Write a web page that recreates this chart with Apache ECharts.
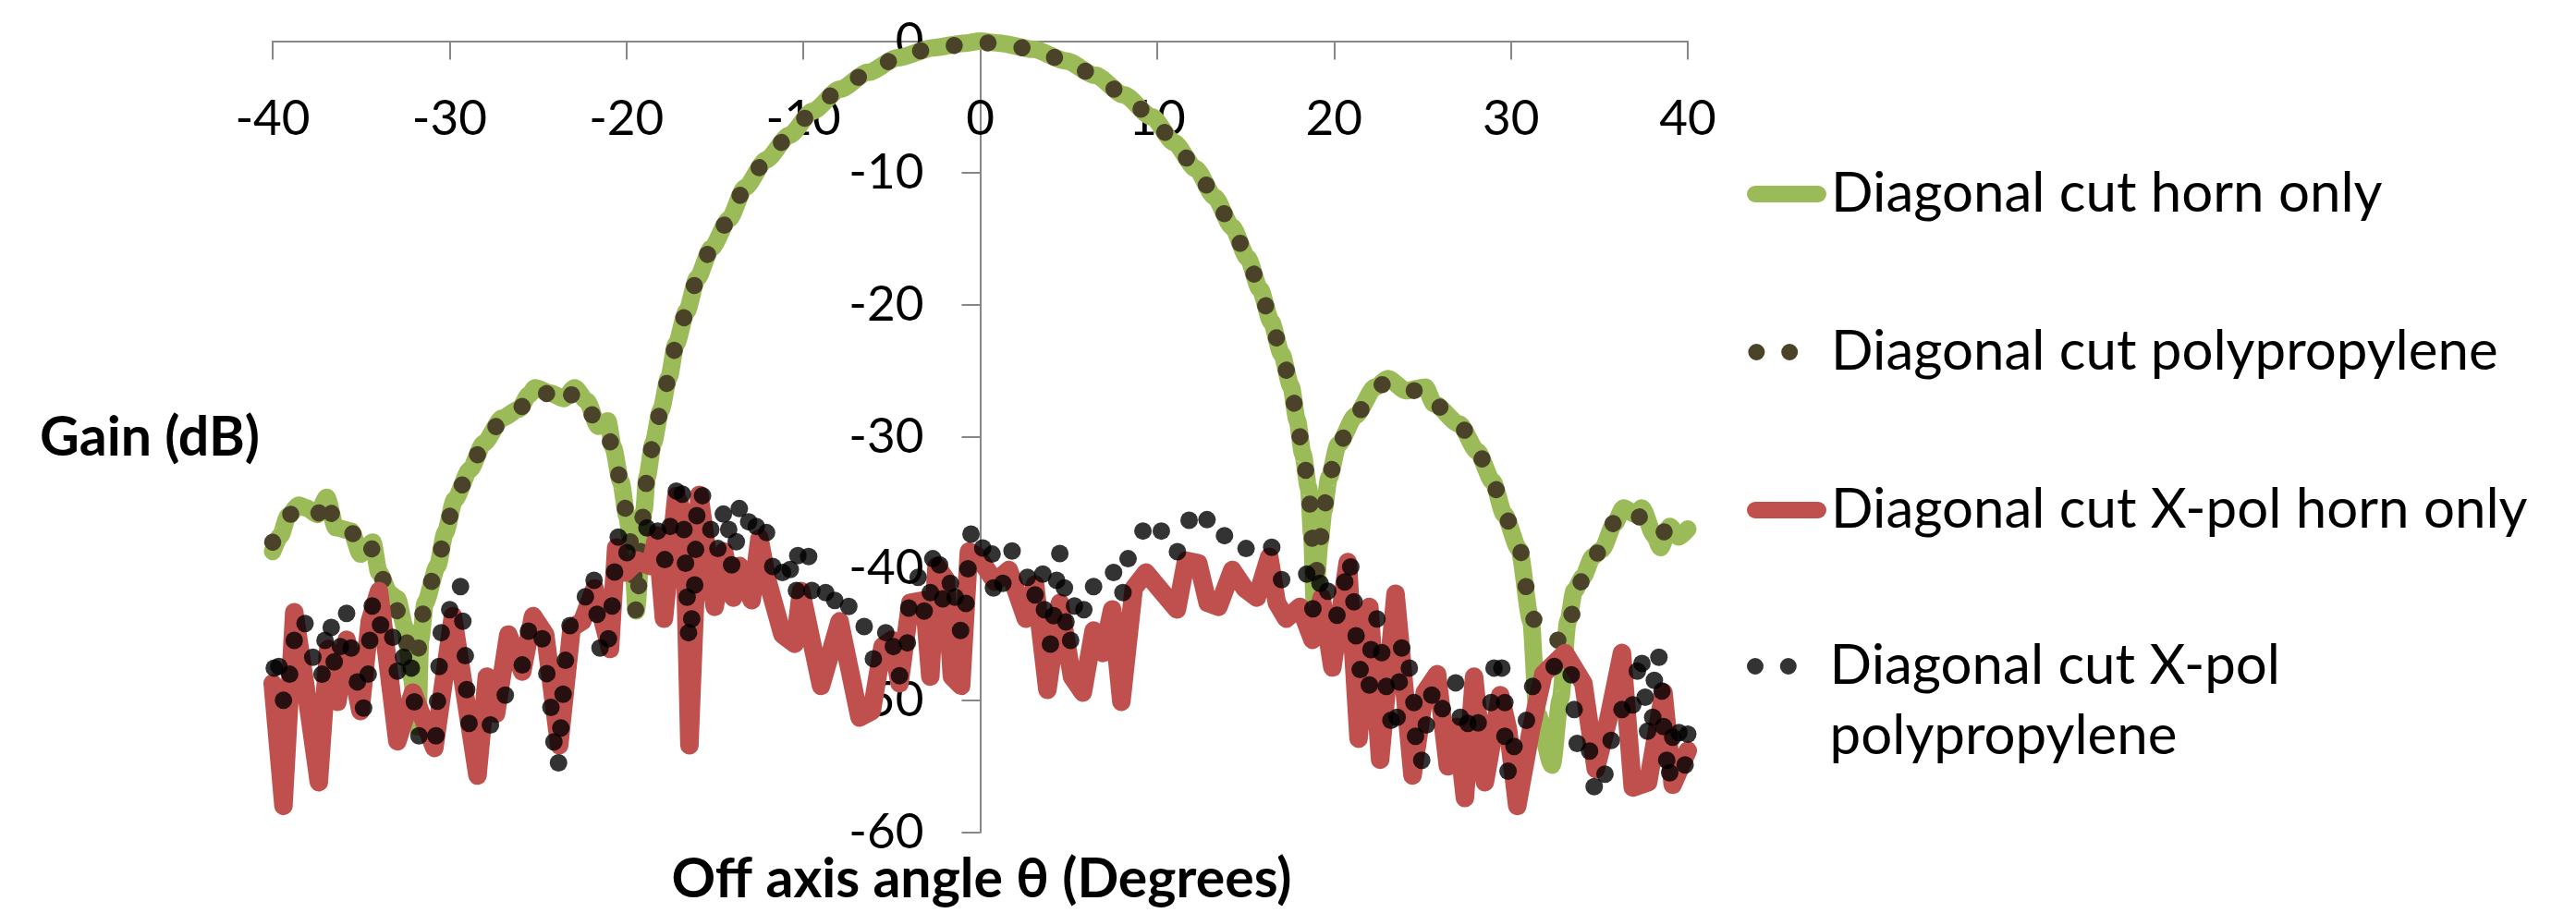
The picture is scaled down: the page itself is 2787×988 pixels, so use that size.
<!DOCTYPE html>
<html>
<head>
<meta charset="utf-8">
<script src="https://cdn.jsdelivr.net/npm/echarts@6/dist/echarts.min.js"></script>
<style>html,body{margin:0;padding:0;background:#fff}#c{width:2787px;height:988px}</style>
</head>
<body>
<div id="c"></div>
<script>
// ---------- tick labels ----------
const xTicks = [-40, -30, -20, -10, 0, 10, 20, 30, 40];
const yTicks = [-60, -50, -40, -30, -20, -10, 0];

// ---------- series names ----------
const seriesNames = [
  'Diagonal cut horn only',
  'Diagonal cut polypropylene',
  'Diagonal cut X-pol horn only',
  'Diagonal cut X-pol polypropylene'
];

// ---------- co-pol (diagonal cut) angles ----------
const coTheta = [-40.0, -39.56, -39.13, -38.52, -38.08, -37.47, -36.95, -36.43, -35.56, -35.04,
  -34.34, -33.99, -33.38, -32.95, -32.51, -32.16, -31.81, -31.64, -31.38, -30.68,
  -30.25, -29.72, -28.85, -28.07, -27.02, -26.07, -25.5, -25.16, -24.3, -23.54,
  -22.93, -22.23, -21.6, -21.06, -20.75, -20.32, -19.97, -19.6, -19.45, -19.01,
  -18.84, -18.49, -18.06, -17.6, -17.2, -16.6, -16.0, -15.2, -14.2, -13.3,
  -12.1, -10.8, -9.46, -7.94, -6.34, -4.67, -2.66, -0.88, 0, 1.1,
  2.99, 4.86, 6.51, 8.11, 9.71, 10.96, 12.19, 13.25, 14.24, 15.12,
  15.82, 16.45, 17.04, 17.57, 17.92, 18.24, 18.57, 18.75, 18.9, 19.2,
  19.42, 19.72, 20.24, 21.22, 22.32, 23.04, 24.08, 25.17, 25.65, 27.09,
  28.1, 28.97, 29.63, 30.45, 31.14, 31.49, 32.33, 32.8, 33.23, 33.58,
  34.07, 34.63, 35.15, 35.85, 36.37, 37.06, 37.41, 38.11, 38.46, 38.98,
  39.5, 40.0];

// Diagonal cut horn only (gain, dB)
const hornGain = [-38.7, -37.5, -36.0, -35.2, -35.4, -35.9, -34.6, -36.9, -37.15, -38.9,
  -38.0, -40.3, -41.9, -42.3, -44.5, -48.2, -52.0, -45.4, -42.6, -39.8,
  -37.3, -34.8, -32.5, -30.5, -28.6, -27.9, -26.8, -26.3, -26.7, -27.1,
  -26.3, -27.3, -29.2, -28.8, -30.8, -33.4, -36.0, -40.0, -43.2, -35.6,
  -33.1, -30.5, -28.0, -25.5, -23.0, -20.5, -18.0, -15.7, -13.5, -11.1,
  -9.0, -7.15, -5.3, -3.65, -2.37, -1.27, -0.5, -0.15, 0, -0.15,
  -0.62, -1.51, -2.6, -4.07, -5.75, -7.69, -9.68, -11.82, -14.09, -16.45,
  -18.83, -21.28, -23.73, -26.18, -28.75, -31.3, -33.9, -37.5, -42.8, -38.0,
  -35.6, -33.1, -30.6, -28.4, -26.25, -25.6, -26.5, -26.25, -27.5, -29.05,
  -31.1, -33.4, -35.9, -38.5, -44.0, -51.0, -54.9, -49.9, -44.0, -41.7,
  -40.65, -39.1, -38.55, -36.6, -35.4, -35.9, -35.4, -37.5, -38.4, -36.8,
  -37.6, -37.0];

// Diagonal cut polypropylene (gain, dB)
const polyGain = [-38.0, -37.2, -36.0, -35.3, -35.4, -35.9, -34.6, -36.9, -37.15, -38.9,
  -38.5, -40.3, -41.9, -43.2, -45.3, -47.0, -46.5, -44.6, -42.3, -39.8,
  -37.3, -34.8, -32.5, -30.5, -28.7, -28.0, -26.8, -26.4, -26.8, -27.6,
  -26.6, -27.5, -29.4, -29.9, -30.9, -33.4, -36.0, -40.0, -43.5, -35.6,
  -33.1, -30.5, -28.0, -25.5, -23.0, -20.5, -18.0, -15.7, -13.5, -11.1,
  -9.0, -7.15, -5.3, -3.65, -2.37, -1.27, -0.5, -0.27, -0.1, -0.2,
  -0.62, -1.51, -2.6, -4.07, -5.75, -7.69, -9.68, -11.82, -14.09, -16.45,
  -18.83, -21.28, -23.73, -26.18, -28.75, -31.3, -33.9, -37.5, -41.5, -38.0,
  -35.6, -33.1, -30.6, -28.4, -26.25, -25.9, -26.5, -26.5, -27.5, -29.05,
  -31.1, -33.4, -35.9, -38.25, -43.3, -44.5, -44.9, -45.6, -44.0, -43.2,
  -40.65, -39.1, -38.55, -36.5, -35.6, -35.9, -36.2, -37.0, -37.5, -36.7,
  -37.2, -37.0];

// ---------- X-pol horn only ----------
const xpolHornTheta = [-40.0, -39.39, -38.78, -38.17, -37.39, -36.86, -36.34, -35.82, -35.04, -34.51,
  -33.99, -32.95, -32.07, -30.86, -29.81, -28.42, -27.89, -27.37, -26.68, -25.89,
  -25.28, -24.59, -23.8, -23.1, -22.5, -21.8, -20.93, -20.58, -20.06, -19.36,
  -18.66, -18.28, -17.88, -17.18, -16.75, -16.44, -15.88, -15.01, -14.48, -13.96,
  -13.62, -12.92, -12.48, -12.05, -11.18, -10.48, -10.13, -9.0, -7.95, -6.82,
  -6.13, -5.52, -4.99, -4.56, -3.95, -3.17, -2.82, -2.47, -1.95, -1.6,
  -1.08, -0.64, -0.12, 0.84, 1.62, 2.58, 3.1, 3.8, 4.5, 5.19,
  5.8, 6.41, 6.94, 7.46, 7.98, 8.68, 9.37, 10.24, 11.12, 11.64,
  12.33, 12.86, 13.47, 14.25, 14.95, 15.64, 16.34, 16.77, 17.3, 18.08,
  18.78, 19.3, 19.91, 20.78, 21.39, 22.0, 22.61, 23.48, 24.44, 25.13,
  25.83, 26.44, 26.96, 27.4, 27.92, 28.53, 29.4, 29.84, 30.36, 31.14,
  31.84, 33.06, 34.1, 34.8, 35.5, 36.28, 36.89, 37.76, 38.63, 39.15,
  40.0];
const xpolHornGain = [-48.7, -58.0, -43.3, -48.7, -56.2, -46.1, -50.1, -45.4, -50.8, -44.0,
  -41.7, -53.1, -49.4, -53.6, -43.6, -55.7, -48.2, -51.0, -45.0, -47.8,
  -43.6, -45.0, -53.4, -44.5, -44.0, -41.5, -46.1, -38.4, -40.3, -39.4,
  -39.8, -37.5, -43.8, -34.5, -35.9, -53.4, -34.4, -42.9, -38.7, -42.2,
  -39.8, -42.4, -37.7, -40.8, -45.0, -45.7, -41.7, -48.9, -44.0, -51.3,
  -50.8, -45.9, -45.4, -48.7, -42.6, -42.4, -48.2, -39.8, -40.8, -48.2,
  -48.9, -38.7, -39.1, -41.0, -40.1, -43.8, -41.2, -49.2, -42.6, -48.2,
  -49.4, -44.7, -46.4, -43.1, -50.1, -41.5, -40.3, -41.7, -43.1, -39.4,
  -39.6, -42.6, -42.9, -40.1, -41.5, -42.2, -39.1, -42.6, -43.8, -42.9,
  -45.4, -42.2, -47.5, -39.5, -52.9, -42.9, -54.5, -41.9, -55.7, -49.4,
  -48.0, -55.0, -52.0, -57.4, -48.2, -56.2, -49.6, -52.2, -58.0, -52.2,
  -48.0, -46.4, -48.7, -55.2, -51.5, -46.4, -56.6, -56.2, -49.4, -56.4,
  -53.8];

// ---------- X-pol polypropylene (round-dot line, dots as read) ----------
const xpolPolyTheta = [-39.91, -39.65, -39.39, -39.04, -38.78, -38.17, -37.73, -37.21, -37.04, -36.69,
  -36.52, -36.17, -35.82, -35.56, -35.21, -34.86, -34.6, -34.51, -34.37, -33.9,
  -33.21, -32.95, -32.6, -32.16, -31.99, -31.73, -30.77, -30.68, -30.59, -30.47,
  -29.99, -29.38, -29.25, -29.11, -29.03, -28.9, -27.69, -26.85, -25.89, -25.54,
  -24.76, -24.5, -24.27, -24.1, -23.84, -23.71, -23.58, -23.45, -23.19, -22.32,
  -21.83, -21.66, -21.49, -21.02, -20.81, -20.67, -20.46, -19.97, -18.84, -18.23,
  -17.83, -17.53, -17.18, -16.84, -16.75, -16.66, -16.57, -16.49, -16.31, -16.14,
  -16.09, -16.02, -15.7, -15.23, -14.83, -14.52, -14.22, -14.05, -13.79, -13.62,
  -13.09, -12.66, -12.08, -11.73, -11.18, -10.74, -10.31, -9.7, -10.39, -9.52,
  -8.74, -8.22, -7.43, -6.56, -6.04, -5.34, -4.91, -4.56, -4.12, -4.04,
  -3.51, -3.17, -2.82, -2.68, -2.3, -2.12, -1.69, -1.42, -1.11, -0.81,
  -0.69, -0.52, 0.14, 0.67, 0.75, 1.28, 1.8, 2.67, 3.1, 3.54,
  3.63, 3.97, 4.15, 4.32, 4.5, 4.76, 4.85, 5.11, 5.33, 5.86,
  6.41, 7.54, 8.07, 8.36, 9.2, 10.24, 11.15, 11.81, 12.82, 13.81,
  15.03, 16.48, 17.04, 18.46, 18.81, 19.21, 19.65, 20.17, 20.61, 20.95,
  21.13, 21.25, 21.48, 22.0, 22.09, 22.43, 22.7, 22.96, 23.22, 23.57,
  23.69, 23.83, 24.26, 24.52, 24.61, 24.96, 25.22, 25.53, 26.13, 26.88,
  27.14, 27.57, 28.15, 28.88, 29.05, 29.49, 29.66, 29.66, 30.18, 29.84,
  30.88, 31.23, 32.45, 33.41, 33.58, 33.75, 34.45, 34.71, 35.32, 35.67,
  36.28, 36.89, 37.15, 37.41, 37.59, 37.73, 38.02, 38.11, 38.37, 38.54,
  38.63, 38.81, 38.98, 39.15, 39.5, 39.85, 40.0];
const xpolPolyGain = [-47.54, -47.42, -49.99, -48.01, -45.44, -44.16, -46.72, -48.01, -45.44, -44.46,
  -47.07, -45.91, -43.39, -46.02, -48.59, -50.58, -48.01, -45.44, -42.83, -44.27,
  -45.21, -47.77, -46.72, -47.54, -50.11, -52.68, -52.68, -50.06, -47.42, -44.86,
  -43.11, -41.36, -43.99, -46.61, -49.18, -51.74, -51.86, -49.6, -47.31, -44.74,
  -45.32, -47.96, -50.53, -53.14, -54.73, -52.09, -49.53, -46.96, -44.32, -42.13,
  -40.89, -43.46, -46.02, -45.32, -42.83, -40.26, -37.62, -38.79, -36.92, -37.15,
  -39.32, -36.8, -34.12, -34.35, -37.04, -39.6, -42.17, -44.86, -43.81, -41.24,
  -38.55, -35.99, -34.47, -37.04, -38.48, -35.87, -37.04, -39.72, -37.97, -35.45,
  -36.45, -36.8, -37.27, -39.84, -40.3, -40.07, -39.02, -39.09, -41.66, -41.66,
  -41.82, -42.41, -42.87, -44.39, -46.84, -44.86, -45.91, -48.12, -45.63, -42.99,
  -40.66, -43.22, -41.82, -39.25, -39.72, -42.29, -41.12, -42.17, -44.69, -42.64,
  -40.02, -37.39, -38.44, -38.9, -41.47, -41.12, -38.67, -40.66, -41.99, -40.42,
  -43.11, -45.72, -43.57, -40.89, -38.86, -41.47, -44.04, -45.44, -42.83, -43.11,
  -41.36, -40.3, -41.82, -39.25, -37.15, -37.15, -38.72, -36.34, -36.29, -37.5,
  -38.48, -38.39, -40.84, -40.42, -43.04, -41.12, -41.71, -43.53, -41.01, -39.88,
  -42.52, -45.09, -47.66, -48.83, -46.14, -43.81, -46.37, -48.94, -51.51, -51.28,
  -48.59, -46.02, -47.54, -50.16, -52.72, -54.54, -51.86, -49.6, -50.62, -48.66,
  -51.28, -51.74, -51.7, -50.16, -47.54, -47.54, -50.16, -52.72, -53.49, -55.36,
  -51.51, -48.94, -47.42, -48.05, -50.69, -53.26, -53.84, -56.53, -55.59, -53.03,
  -50.69, -50.34, -47.77, -47.19, -49.76, -52.33, -51.28, -48.47, -46.72, -49.29,
  -51.98, -54.54, -55.48, -52.79, -52.44, -54.89, -52.56];

// ---------- build pairs ----------
const pairs = (xs, ys) => xs.map((x, i) => [x, ys[i]]);

const FONT = 'Lato';
const AXIS_GRAY = '#878787';
const GRID = {left: 295, right: 961, top: 44.5, bottom: 87.3};
const PLOT_W = 2787 - GRID.left - GRID.right;
const xMin = xTicks[0], xMax = xTicks[xTicks.length - 1];
// shift the vertical axis so it crosses the horizontal axis at 0
const yAxisShift = -PLOT_W * (0 - xMin) / (xMax - xMin);

const lineIcon = 'path://M9,0 L77,0 A9,9 0 0 1 77,18 L9,18 A9,9 0 0 1 9,0 Z';
const dotsIcon = 'path://M0,9 a9.3,9.3 0 1,0 18.6,0 a9.3,9.3 0 1,0 -18.6,0 Z M37,9 a9.3,9.3 0 1,0 18.6,0 a9.3,9.3 0 1,0 -18.6,0 Z M86,0 L86,0.01 L86.01,0.01 Z M86,18 L86,17.99 L85.99,17.99 Z';

const chart = echarts.init(document.getElementById('c'), null, {renderer: 'canvas', width: 2787, height: 988});

const legendText = {fontFamily: FONT, fontSize: 60, color: '#000'};

chart.setOption({
  animation: false,
  backgroundColor: '#ffffff',
  grid: Object.assign({containLabel: false}, GRID),
  xAxis: {
    type: 'value',
    position: 'top',
    min: xMin, max: xMax, interval: xTicks[1] - xTicks[0],
    axisLine: {show: true, onZero: false, lineStyle: {color: AXIS_GRAY, width: 2}},
    axisTick: {show: true, inside: true, length: 20, lineStyle: {color: AXIS_GRAY, width: 2}},
    axisLabel: {inside: true, margin: 58, color: '#000', fontFamily: FONT, fontSize: 53, showMinLabel: true, showMaxLabel: true},
    splitLine: {show: false}
  },
  yAxis: {
    type: 'value',
    position: 'left',
    offset: yAxisShift,
    min: yTicks[0], max: yTicks[yTicks.length - 1], interval: yTicks[1] - yTicks[0],
    axisLine: {show: true, onZero: false, lineStyle: {color: AXIS_GRAY, width: 2}},
    axisTick: {show: true, inside: false, length: 20, lineStyle: {color: AXIS_GRAY, width: 2}},
    axisLabel: {margin: 61, color: '#000', fontFamily: FONT, fontSize: 53, showMinLabel: true, showMaxLabel: true},
    splitLine: {show: false}
  },
  legend: [
    {
      orient: 'vertical', left: 1890, top: 180, padding: 0, itemGap: 111,
      itemWidth: 86, itemHeight: 18, selectedMode: false,
      itemStyle: {borderWidth: 0},
      textStyle: Object.assign({lineHeight: 60}, legendText),
      data: [
        {name: seriesNames[0], icon: lineIcon},
        {name: seriesNames[1], icon: dotsIcon},
        {name: seriesNames[2], icon: lineIcon}
      ]
    },
    {
      orient: 'vertical', left: 1890, top: 607, padding: 0,
      itemWidth: 86, itemHeight: 18, selectedMode: false,
      itemStyle: {borderWidth: 0},
      textStyle: Object.assign({lineHeight: 76}, legendText),
      formatter: (name) => '\n' + name.replace(' polypropylene', '\npolypropylene'),
      data: [{name: seriesNames[3], icon: dotsIcon}]
    }
  ],
  graphic: [
    {type: 'text', x: 43, y: 474, style: {text: 'Gain (dB)', fontFamily: FONT, fontWeight: 'bold', fontSize: 59, fill: '#000', align: 'left', verticalAlign: 'middle'}},
    {type: 'text', x: 1062, y: 952, style: {text: 'Off axis angle θ (Degrees)', fontFamily: FONT, fontWeight: 'bold', fontSize: 59, fill: '#000', align: 'center', verticalAlign: 'middle'}}
  ],
  series: [
    {
      name: seriesNames[0], type: 'line', data: pairs(coTheta, hornGain),
      showSymbol: false, symbol: 'none', smooth: 0.25, smoothMonotone: 'x',
      itemStyle: {color: '#9bbb59'},
      lineStyle: {color: '#9bbb59', width: 19, cap: 'round', join: 'round'},
      z: 2
    },
    {
      name: seriesNames[1], type: 'line', data: pairs(coTheta, polyGain),
      showSymbol: false, symbol: 'none', smooth: 0.25, smoothMonotone: 'x',
      itemStyle: {color: '#4b4329'},
      lineStyle: {color: '#4b4329', width: 18.5, type: [0.1, 36.9], cap: 'round', join: 'round'},
      z: 3
    },
    {
      name: seriesNames[2], type: 'line', data: pairs(xpolHornTheta, xpolHornGain),
      showSymbol: false, symbol: 'none',
      itemStyle: {color: '#c0504d'},
      lineStyle: {color: '#c0504d', width: 20, cap: 'round', join: 'round'},
      z: 4
    },
    {
      name: seriesNames[3], type: 'scatter', data: pairs(xpolPolyTheta, xpolPolyGain),
      symbol: 'circle', symbolSize: 19,
      itemStyle: {color: '#000000'},
      z: 5
    }
  ]
});
</script>
</body>
</html>
